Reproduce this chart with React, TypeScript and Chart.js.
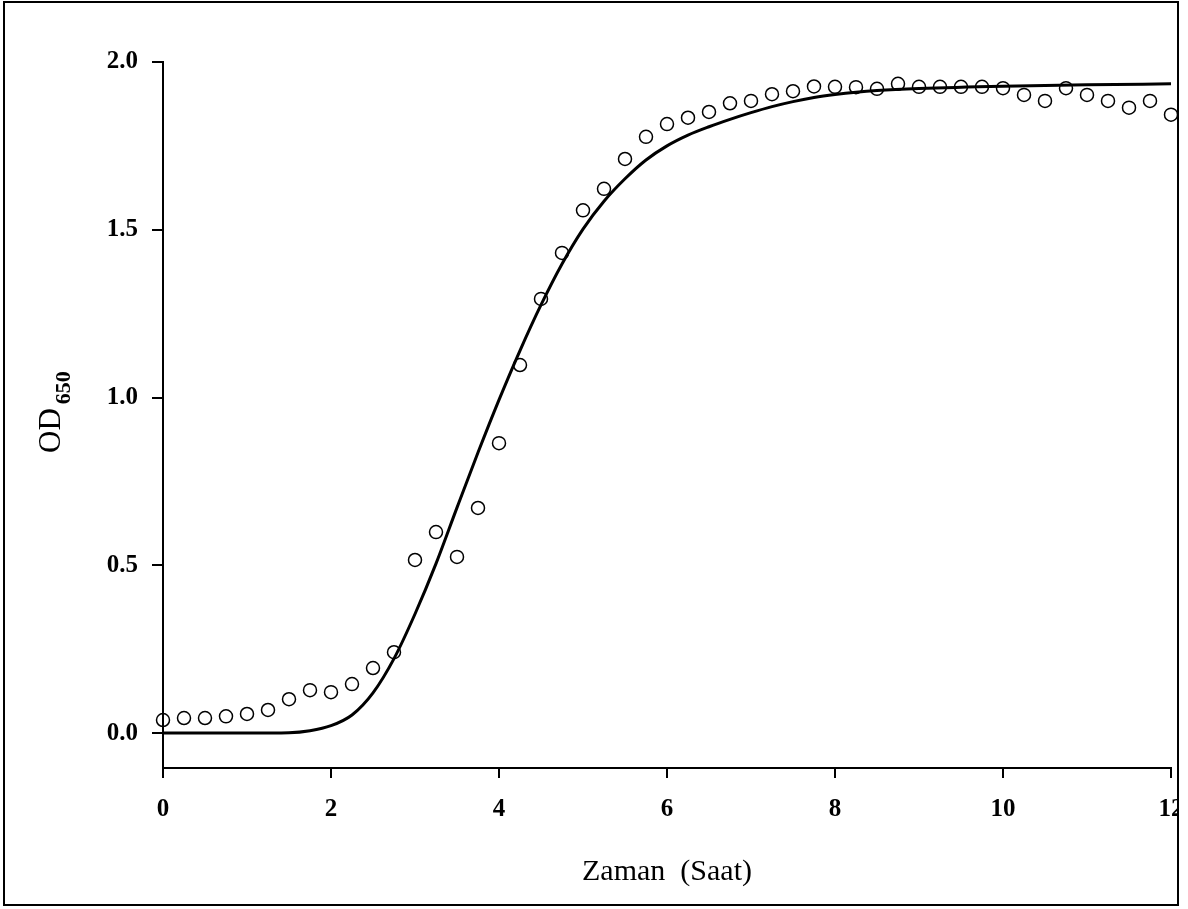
import React, { useEffect, useRef } from 'react';
import { Chart, registerables } from 'chart.js';

Chart.register(...registerables);

// Observed OD650 readings (every 15 minutes)
const timeHours = [
  0, 0.25, 0.5, 0.75, 1, 1.25, 1.5, 1.75, 2, 2.25, 2.5, 2.75,
  3, 3.25, 3.5, 3.75, 4, 4.25, 4.5, 4.75, 5, 5.25, 5.5, 5.75,
  6, 6.25, 6.5, 6.75, 7, 7.25, 7.5, 7.75, 8, 8.25, 8.5, 8.75,
  9, 9.25, 9.5, 9.75, 10, 10.25, 10.5, 10.75, 11, 11.25, 11.5, 11.75, 12,
];
const odObserved = [
  0.039, 0.045, 0.045, 0.05, 0.057, 0.069, 0.101, 0.128, 0.122, 0.146, 0.194, 0.241,
  0.516, 0.599, 0.525, 0.671, 0.864, 1.097, 1.294, 1.431, 1.558, 1.622, 1.711, 1.777,
  1.815, 1.834, 1.851, 1.877, 1.884, 1.904, 1.913, 1.927, 1.926, 1.925, 1.92, 1.935,
  1.926, 1.926, 1.926, 1.926, 1.922, 1.902, 1.884, 1.922, 1.902, 1.884, 1.864, 1.884, 1.843,
];

// Fitted growth curve
const fitTime = [
  0, 0.5, 1, 1.5, 1.75, 2, 2.25, 2.5, 2.75, 3, 3.25, 3.5, 3.75, 4, 4.25, 4.5, 4.75,
  5, 5.25, 5.5, 5.75, 6, 6.25, 6.5, 6.75, 7, 7.25, 7.5, 7.75, 8, 8.25, 8.5, 9, 10, 11, 12,
];
const fitOD = [
  0, 0, 0, 0.001, 0.007, 0.022, 0.054, 0.12, 0.222, 0.355, 0.505, 0.672, 0.836, 0.993, 1.14, 1.276, 1.398,
  1.502, 1.585, 1.652, 1.708, 1.75, 1.782, 1.807, 1.829, 1.849, 1.867, 1.882, 1.894, 1.903, 1.91, 1.915, 1.921, 1.928, 1.932, 1.935,
];

const xTickValues = [0, 2, 4, 6, 8, 10, 12];
const yTickValues = [0, 0.5, 1.0, 1.5, 2.0];
const xTitle = 'Zaman  (Saat)';
const yTitleMain = 'OD';
const yTitleSub = '650';

const SERIF = '"Liberation Serif", "Times New Roman", serif';

export default function App() {
  const ref = useRef<HTMLCanvasElement | null>(null);

  useEffect(() => {
    const canvas = ref.current;
    if (!canvas) return;

    const yTitlePlugin = {
      id: 'yTitleWithSubscript',
      afterDraw(chart: any) {
        const ctx = chart.ctx as CanvasRenderingContext2D;
        ctx.save();
        ctx.fillStyle = '#000';
        ctx.translate(55, 450);
        ctx.rotate(-Math.PI / 2);
        ctx.textAlign = 'left';
        ctx.textBaseline = 'alphabetic';
        ctx.font = `31px ${SERIF}`;
        ctx.fillText(yTitleMain, 0, 0);
        const w = ctx.measureText(yTitleMain).width;
        ctx.font = `bold 22px ${SERIF}`;
        ctx.fillText(yTitleSub, w + 4, 10);
        ctx.restore();
      },
    };

    const tickFont = { family: SERIF, size: 25, weight: 'bold' as const };

    const chart = new Chart(canvas, {
      type: 'line',
      data: {
        datasets: [
          {
            label: 'Gözlenen',
            data: timeHours.map((t, i) => ({ x: t, y: odObserved[i] })),
            showLine: false,
            pointRadius: 6.5,
            pointBorderWidth: 1.5,
            pointBorderColor: '#000',
            pointBackgroundColor: 'rgba(0,0,0,0)',
            clip: false as any,
          },
          {
            label: 'Model',
            data: fitTime.map((t, i) => ({ x: t, y: fitOD[i] })),
            borderColor: '#000',
            borderWidth: 3,
            pointRadius: 0,
            fill: false,
            cubicInterpolationMode: 'monotone',
          },
        ],
      },
      options: {
        animation: false,
        responsive: false,
        devicePixelRatio: 1,
        layout: { padding: { left: 0, top: 59, right: 54, bottom: 0 } },
        plugins: {
          legend: { display: false },
          tooltip: { enabled: false },
        },
        scales: {
          x: {
            type: 'linear',
            min: 0,
            max: 12,
            afterFit(s: any) {
              s.height = 135;
            },
            afterBuildTicks(s: any) {
              s.ticks = xTickValues.map((v) => ({ value: v }));
            },
            grid: {
              drawOnChartArea: false,
              drawTicks: true,
              tickLength: 10,
              color: '#000',
              lineWidth: 2,
            },
            border: { display: true, color: '#000', width: 2 },
            ticks: {
              color: '#000',
              font: tickFont,
              padding: 17,
              maxRotation: 0,
              autoSkip: false,
              callback: (v: any) => String(v),
            },
            title: {
              display: true,
              text: xTitle,
              color: '#000',
              font: { family: SERIF, size: 30 },
              padding: { top: 0, bottom: 13 },
            },
          },
          y: {
            type: 'linear',
            min: -0.104,
            max: 2.0,
            afterFit(s: any) {
              s.width = 158;
            },
            afterBuildTicks(s: any) {
              s.ticks = yTickValues.map((v) => ({ value: v }));
            },
            grid: {
              drawOnChartArea: false,
              drawTicks: true,
              tickLength: 11,
              color: '#000',
              lineWidth: 2,
            },
            border: { display: true, color: '#000', width: 2 },
            ticks: {
              color: '#000',
              font: tickFont,
              padding: 14,
              callback: (v: any) => Number(v).toFixed(1),
            },
          },
        },
      },
      plugins: [yTitlePlugin],
    } as any);

    return () => chart.destroy();
  }, []);

  return (
    <div
      style={{
        position: 'absolute',
        left: 3,
        top: 1,
        width: 1176,
        height: 905,
        boxSizing: 'border-box',
        border: '2px solid #000',
        overflow: 'hidden',
        background: '#fff',
      }}
    >
      <canvas
        ref={ref}
        width={1220}
        height={900}
        style={{ position: 'absolute', left: 0, top: 0, width: 1220, height: 900 }}
      />
    </div>
  );
}
